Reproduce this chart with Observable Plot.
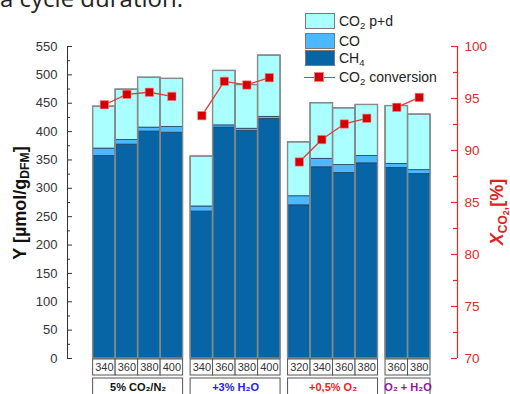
<!DOCTYPE html>
<html><head><meta charset="utf-8">
<script src="https://cdn.jsdelivr.net/npm/d3@7"></script>
<script src="https://cdn.jsdelivr.net/npm/@observablehq/plot@0.6"></script>
<style>
body{margin:0;background:#fff;font-family:"Liberation Sans",Arial,sans-serif}
#wrap{position:relative;width:510px;height:394px;overflow:hidden}
#wrap svg{position:absolute;left:0;top:0}
.ov{position:absolute;white-space:nowrap}
.ytitle{left:20px;top:203px;transform:translate(-50%,-50%) rotate(-90deg);font-weight:bold;font-size:18px;color:#111}
.rtitle{left:497px;top:212px;transform:translate(-50%,-50%) rotate(-90deg);font-weight:bold;font-size:18px;color:#dd2222}
sub{font-size:68%;vertical-align:-0.3em;line-height:0}
.rtitle .s1{font-size:12px;vertical-align:-0.3em;line-height:0}
.rtitle .s2{font-size:9px;vertical-align:-0.3em;line-height:0}
.legend{left:303px;top:12px;width:130px;height:76px;background:rgba(255,255,255,0.9)}
.sw{position:absolute;left:2px;width:28px;height:14px;border:1.3px solid #7a7a7a}
.lt{position:absolute;left:36px;font-size:14px;color:#222;line-height:16px}
.topcut{left:0px;top:-19px;font-family:"Open Sans",sans-serif;font-size:24px;color:#222}
</style></head><body><div id="wrap"></div>
<script>
// ---- data ----
const groupNames = ["5% CO₂/N₂", "+3% H₂O", "+0,5% O₂", "O₂ + H₂O"];
const barGroup = [0,0,0,0, 1,1,1,1, 2,2,2,2, 3,3];
const barTemp  = [340,360,380,400, 340,360,380,400, 320,340,360,380, 360,380];
const ch4      = [357,377,400,398, 259,407,401,422, 270,337,327,344, 336,325];
const co       = [13,8,7,10, 9,4,4,4, 16,15,14,13, 7,7];
const co2pd    = [74,89,88,85, 88,96,77,108, 95,98,100,90, 102,98];
const conversion = [94.4,95.4,95.6,95.2, 93.35,96.65,96.3,97.0, 88.9,91.05,92.55,93.1, 94.15,95.1];
const yTicks = [0,50,100,150,200,250,300,350,400,450,500,550];
const convTicks = [70,75,80,85,90,95,100];

// ---- styles ----
const groupColors = ["#111111", "#2222ee", "#ee2222", "#8a1a9a"];
const segColors = {CH4: "#0765a6", CO: "#4db8ff", CO2: "#aaffff"};
const RED = "#dd2a2a";

// ---- layout ----
const W = 510, H = 394, ML = 67, MR = 53, MT = 46, MB = 36;
const FW = W - ML - MR;
const GAP = 1/3, PADL = 1.14, PADR = 1.2;
const nG = groupNames.length;
const xmin = -PADL;
const xmax = barTemp.length + (nG - 1) * GAP + PADR;
const convY = v => (v - 70) / 30 * 550;

const bars = barTemp.map((t, i) => {
  const x1 = i + barGroup[i] * GAP;
  return {i, group: barGroup[i], temp: t, x1, x2: x1 + 1, xc: x1 + 0.5,
    ch4: ch4[i], co: co[i], co2: co2pd[i], total: ch4[i] + co[i] + co2pd[i], conv: conversion[i]};
});
const segments = bars.flatMap(b => [
  {x1: b.x1, x2: b.x2, y1: 0, y2: b.ch4, fill: segColors.CH4},
  {x1: b.x1, x2: b.x2, y1: b.ch4, y2: b.ch4 + b.co, fill: segColors.CO},
  {x1: b.x1, x2: b.x2, y1: b.ch4 + b.co, y2: b.total, fill: segColors.CO2}
]);
const groupBoxes = groupNames.map((name, g) => {
  const bs = bars.filter(b => b.group === g);
  const x1 = d3.min(bs, b => b.x1), x2 = d3.max(bs, b => b.x2);
  return {name, g, x1, x2, xc: (x1 + x2) / 2, color: groupColors[g]};
});

const minorY = d3.range(25, 550, 50);
const minorC = [72.5, 77.5, 82.5, 87.5, 92.5, 97.5];

const chart = Plot.plot({
  width: W, height: H, marginLeft: ML, marginRight: MR, marginTop: MT, marginBottom: MB,
  style: {fontFamily: '"Liberation Sans", Arial, sans-serif', background: "transparent"},
  x: {domain: [xmin, xmax], axis: null},
  y: {domain: [0, 550], axis: null},
  color: {type: "identity"},
  marks: [
    Plot.rect(segments, {x1: "x1", x2: "x2", y1: "y1", y2: "y2", fill: "fill", stroke: "#23405e", strokeWidth: 0.8}),
    Plot.rect(bars, {x1: "x1", x2: "x2", y1: () => 0, y2: "total", fill: "none", stroke: "#8a8a8a", strokeWidth: 1.4}),
    Plot.line(bars, {x: "xc", y: d => convY(d.conv), z: "group", stroke: "#e23c3c", strokeWidth: 1.3}),
    Plot.dot(bars, {x: "xc", y: d => convY(d.conv), symbol: "square", r: 4.7, fill: "#d40000", stroke: "#ff7a7a", strokeWidth: 0.6}),
    // axis lines
    Plot.ruleX([xmin], {stroke: "#333", strokeWidth: 1}),
    Plot.ruleX([xmax], {stroke: RED, strokeWidth: 1.2}),
    // left ticks
    Plot.tickY(yTicks, {y: d => d, insetRight: FW - 5, stroke: "#333"}),
    Plot.tickY(minorY, {y: d => d, insetRight: FW - 3, stroke: "#333"}),
    Plot.text(yTicks, {y: d => d, text: d => String(d), frameAnchor: "left", dx: -10, textAnchor: "end", fontSize: 13, fill: "#333"}),
    // right ticks
    Plot.tickY(convTicks, {y: d => convY(d), insetLeft: FW - 6, stroke: RED, strokeWidth: 1.2}),
    Plot.tickY(minorC, {y: d => convY(d), insetLeft: FW - 4, stroke: RED, strokeWidth: 1.2}),
    Plot.text(convTicks, {y: d => convY(d), text: d => String(d), frameAnchor: "right", dx: 7, textAnchor: "start", fontSize: 13.5, fill: RED}),
    // bottom boxes
    Plot.rect(bars, {x1: "x1", x2: "x2", y1: () => 0, y2: () => 0, insetTop: 1, insetBottom: -17, fill: "white", stroke: "#555", strokeWidth: 1}),
    Plot.text(bars, {x: "xc", y: () => 0, dy: 9, text: d => String(d.temp), fontSize: 11, fill: "#333", lineAnchor: "middle"}),
    Plot.rect(groupBoxes, {x1: "x1", x2: "x2", y1: () => 0, y2: () => 0, insetTop: 20, insetBottom: -42, fill: "white", stroke: "#555", strokeWidth: 1}),
    Plot.text(groupBoxes, {x: "xc", y: () => 0, dy: 29, text: "name", fill: "color", fontSize: 11, fontWeight: "bold", lineAnchor: "middle"})
  ]
});

const wrap = document.getElementById("wrap");
wrap.appendChild(chart);
wrap.insertAdjacentHTML("beforeend", `
<div class="ov topcut">a cycle duration.</div>
<div class="ov ytitle">Y [µmol/g<sub>DFM</sub>]</div>
<div class="ov rtitle"><i>X</i><span class="s1">CO<span class="s2">2</span>,</span>[%]</div>
<div class="ov legend">
  <div class="sw" style="top:1px;background:${segColors.CO2}"></div><div class="lt" style="top:1px">CO<sub>2</sub> p+d</div>
  <div class="sw" style="top:21px;background:${segColors.CO}"></div><div class="lt" style="top:21px">CO</div>
  <div class="sw" style="top:38px;background:${segColors.CH4}"></div><div class="lt" style="top:38px">CH<sub>4</sub></div>
  <div style="position:absolute;left:1px;top:64.5px;width:31px;height:1.3px;background:#e23c3c"></div>
  <div style="position:absolute;left:12px;top:61px;width:8px;height:8px;background:#d40000;outline:0.6px solid #ff7a7a"></div>
  <div class="lt" style="top:57px">CO<sub>2</sub> conversion</div>
</div>`);
</script></body></html>
